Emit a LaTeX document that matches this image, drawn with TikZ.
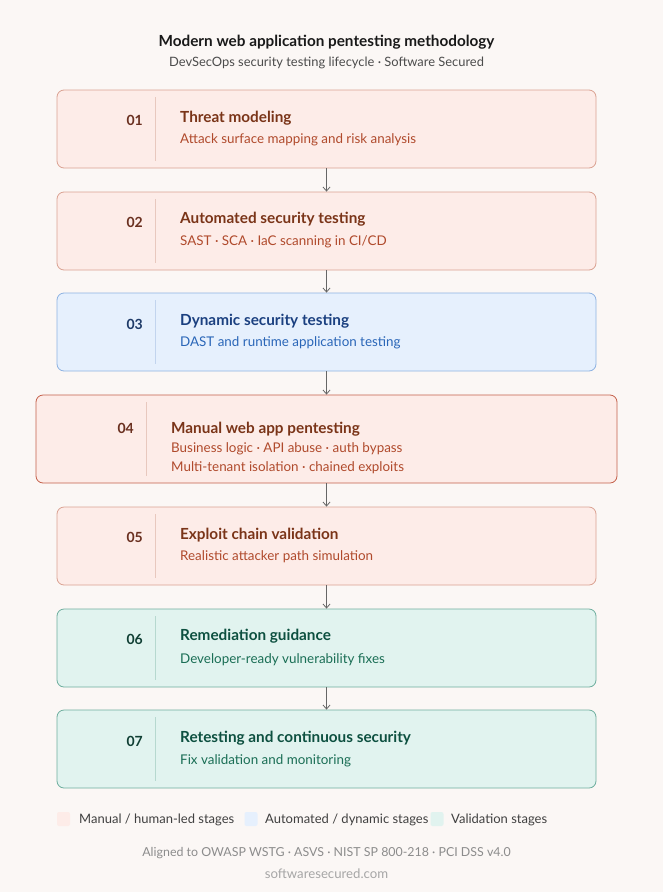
\documentclass[tikz,border=0pt]{standalone}
\usepackage{fontspec}
\setmainfont{Lato}
\usetikzlibrary{arrows.meta}
\definecolor{bg}{HTML}{FBF7F5}
\definecolor{pfill}{HTML}{FDECE8}
\definecolor{pdraw}{HTML}{DAA292}
\definecolor{pdraw4}{HTML}{C4604A}
\definecolor{ptitle}{HTML}{7A3418}
\definecolor{psub}{HTML}{B04A2C}
\definecolor{pnum}{HTML}{6A3020}
\definecolor{pdiv}{HTML}{E8C8BE}
\definecolor{bfill}{HTML}{E6F0FD}
\definecolor{bdraw}{HTML}{8DB2E2}
\definecolor{btitle}{HTML}{1B4080}
\definecolor{bsub}{HTML}{2A66B8}
\definecolor{bnum}{HTML}{1E3A68}
\definecolor{bdiv}{HTML}{C2D4EE}
\definecolor{gfill}{HTML}{E1F3EF}
\definecolor{gdraw}{HTML}{6EAE9E}
\definecolor{gtitle}{HTML}{0D5040}
\definecolor{gsub}{HTML}{1A6E55}
\definecolor{gnum}{HTML}{103F34}
\definecolor{gdiv}{HTML}{B6D8CF}
\definecolor{arrowc}{HTML}{666666}
\tikzset{
  box/.style={rectangle, rounded corners=7pt, line width=0.8pt, minimum width=539pt, minimum height=78pt, inner sep=0pt},
  pinkbox/.style={box, fill=pfill, draw=pdraw},
  bluebox/.style={box, fill=bfill, draw=bdraw},
  greenbox/.style={box, fill=gfill, draw=gdraw},
  numtxt/.style={anchor=east, font=\fontsize{14}{16}\selectfont\bfseries, inner sep=0pt},
  ttxt/.style={anchor=west, font=\fontsize{15.3}{18}\selectfont\bfseries, inner sep=0pt},
  stxt/.style={anchor=west, font=\fontsize{13.4}{16}\selectfont, inner sep=0pt},
  arr/.style={draw=arrowc, line width=0.8pt, -{Straight Barb[length=4pt,width=7pt]}},
  legsq/.style={rectangle, rounded corners=2pt, minimum width=13pt, minimum height=14pt, inner sep=0pt},
  legtxt/.style={anchor=west, font=\fontsize{13}{15}\selectfont, text=black!75, inner sep=0pt}
}
\begin{document}
\begin{tikzpicture}[x=1pt,y=-1pt]
\fill[bg] (0,0) rectangle (663,892);
\useasboundingbox (0,0) rectangle (663,892);
\node[font=\fontsize{15.3}{18}\selectfont\bfseries, text=black!90] (title) at (326.5,42) {Modern web application pentesting methodology};
\node[font=\fontsize{12.9}{15}\selectfont, text=black!70] (subtitle) at (326.5,63) {DevSecOps security testing lifecycle · Software Secured};

% box 1
\node[pinkbox] (b1) at (326.5,129) {};
\draw[pdiv, line width=0.8pt] (155,97) -- (155,161);
\node[numtxt, text=pnum] (n1) at (143,120) {01};
\node[ttxt, text=ptitle] (t1) at (180,118) {Threat modeling};
\node[stxt, text=psub] (s1) at (180,140) {Attack surface mapping and risk analysis};

% box 2
\node[pinkbox] (b2) at (326.5,231) {};
\draw[pdiv, line width=0.8pt] (155,199) -- (155,263);
\node[numtxt, text=pnum] (n2) at (143,222) {02};
\node[ttxt, text=ptitle] (t2) at (180,219) {Automated security testing};
\node[stxt, text=psub] (s2) at (180,242) {SAST · SCA · IaC scanning in CI/CD};

% box 3
\node[bluebox] (b3) at (326.5,332) {};
\draw[bdiv, line width=0.8pt] (155,300) -- (155,364);
\node[numtxt, text=bnum] (n3) at (143,324) {03};
\node[ttxt, text=btitle] (t3) at (180,321) {Dynamic security testing};
\node[stxt, text=bsub] (s3) at (180,343) {DAST and runtime application testing};

% box 4
\node[pinkbox, draw=pdraw4, minimum width=581pt, minimum height=88pt] (b4) at (326.5,439) {};
\draw[pdiv, line width=0.8pt] (146,402) -- (146,476);
\node[numtxt, text=pnum] (n4) at (134,428) {04};
\node[ttxt, text=ptitle] (t4) at (171,429) {Manual web app pentesting};
\node[stxt, text=psub] (s4a) at (171,449) {Business logic · API abuse · auth bypass};
\node[stxt, text=psub] (s4b) at (171,468) {Multi-tenant isolation · chained exploits};

% box 5
\node[pinkbox] (b5) at (326.5,546) {};
\draw[pdiv, line width=0.8pt] (155,514) -- (155,578);
\node[numtxt, text=pnum] (n5) at (143,537) {05};
\node[ttxt, text=ptitle] (t5) at (180,535) {Exploit chain validation};
\node[stxt, text=psub] (s5) at (180,557) {Realistic attacker path simulation};

% box 6
\node[greenbox] (b6) at (326.5,648) {};
\draw[gdiv, line width=0.8pt] (155,616) -- (155,680);
\node[numtxt, text=gnum] (n6) at (143,639) {06};
\node[ttxt, text=gtitle] (t6) at (180,636) {Remediation guidance};
\node[stxt, text=gsub] (s6) at (180,660) {Developer-ready vulnerability fixes};

% box 7
\node[greenbox] (b7) at (326.5,749) {};
\draw[gdiv, line width=0.8pt] (155,717) -- (155,781);
\node[numtxt, text=gnum] (n7) at (143,741) {07};
\node[ttxt, text=gtitle] (t7) at (180,738) {Retesting and continuous security};
\node[stxt, text=gsub] (s7) at (180,761) {Fix validation and monitoring};

% arrows
\draw[arr] (b1.south) -- (b2.north);
\draw[arr] (b2.south) -- (b3.north);
\draw[arr] (b3.south) -- (b4.north);
\draw[arr] (b4.south) -- (b5.north);
\draw[arr] (b5.south) -- (b6.north);
\draw[arr] (b6.south) -- (b7.north);

% legend
\node[legsq, fill=pfill] (lp) at (63.5,819) {};
\node[legtxt] (lpt) at (79,820) {Manual / human-led stages};
\node[legsq, fill=bfill] (lb) at (251,819) {};
\node[legtxt] (lbt) at (265,820) {Automated / dynamic stages};
\node[legsq, fill=gfill] (lg) at (437,819) {};
\node[legtxt] (lgt) at (451,820) {Validation stages};

% footer
\node[font=\fontsize{12.4}{14}\selectfont, text=black!45] (f1) at (326.5,853) {Aligned to OWASP WSTG · ASVS · NIST SP 800-218 · PCI DSS v4.0};
\node[font=\fontsize{13.2}{15}\selectfont, text=black!35] (f2) at (326.5,874) {softwaresecured.com};
\end{tikzpicture}
\end{document}
